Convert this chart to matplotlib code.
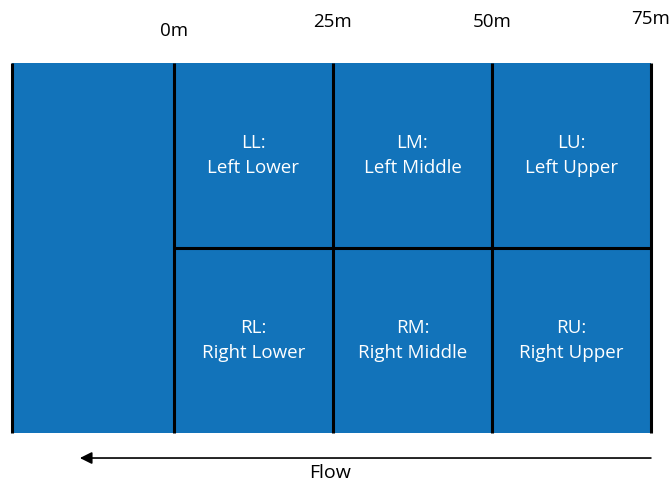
import matplotlib
matplotlib.use("Agg")
import matplotlib.pyplot as plt
from matplotlib.patches import Rectangle

# reach boundaries along the channel (m)
boundaries = [0, 25, 50, 75]
tick_labels = ["0m", "25m", "50m", "75m"]
upstream_end = -25.5

# sections: (start, end, row) ; row 1 = left bank (top), row 0 = right bank
sections = ["LL", "LM", "LU", "RL", "RM", "RU"]
section_names = ["Left Lower", "Left Middle", "Left Upper",
                 "Right Lower", "Right Middle", "Right Upper"]
section_start = [0, 25, 50, 0, 25, 50]
section_row = [1, 1, 1, 0, 0, 0]

blue = "#1273ba"

plt.rcParams["font.family"] = ["Open Sans", "DejaVu Sans"]

fig = plt.figure(figsize=(6.7, 4.83), dpi=100)
ax = fig.add_axes([0, 0, 1, 1])
ax.set_xlim(-27.36, 78.0)
ax.set_ylim(-0.27, 2.34)
ax.axis("off")

# the channel
ax.add_patch(Rectangle((upstream_end, 0), boundaries[-1] - upstream_end, 2,
                       facecolor=blue, edgecolor="none"))

# vertical dividers
for xb in [upstream_end] + boundaries:
    ax.plot([xb, xb], [0, 2], color="black", lw=2.2, solid_capstyle="butt")
ax.plot([boundaries[0], boundaries[-1]], [1, 1], color="black", lw=2.2,
        solid_capstyle="butt")

# section labels
for code, name, x0, row in zip(sections, section_names, section_start, section_row):
    ax.text(x0 + 12.5, row + 0.5, code + ":\n" + name, color="white",
            ha="center", va="center", fontsize=13.5, linespacing=1.5)

# distance labels
tick_y = [2.17, 2.22, 2.22, 2.235]
for xb, lab, ty in zip(boundaries, tick_labels, tick_y):
    ax.text(xb, ty, lab, ha="center", va="center", fontsize=13.5)

# flow arrow
ax.annotate("", xy=(-14.8, -0.135), xytext=(75, -0.135),
            arrowprops=dict(arrowstyle="-|>", color="black", lw=1.2,
                            mutation_scale=18, shrinkA=0, shrinkB=0))
ax.text(24.5, -0.216, "Flow", ha="center", va="center", fontsize=14)

fig.savefig("out.png", dpi=100)
